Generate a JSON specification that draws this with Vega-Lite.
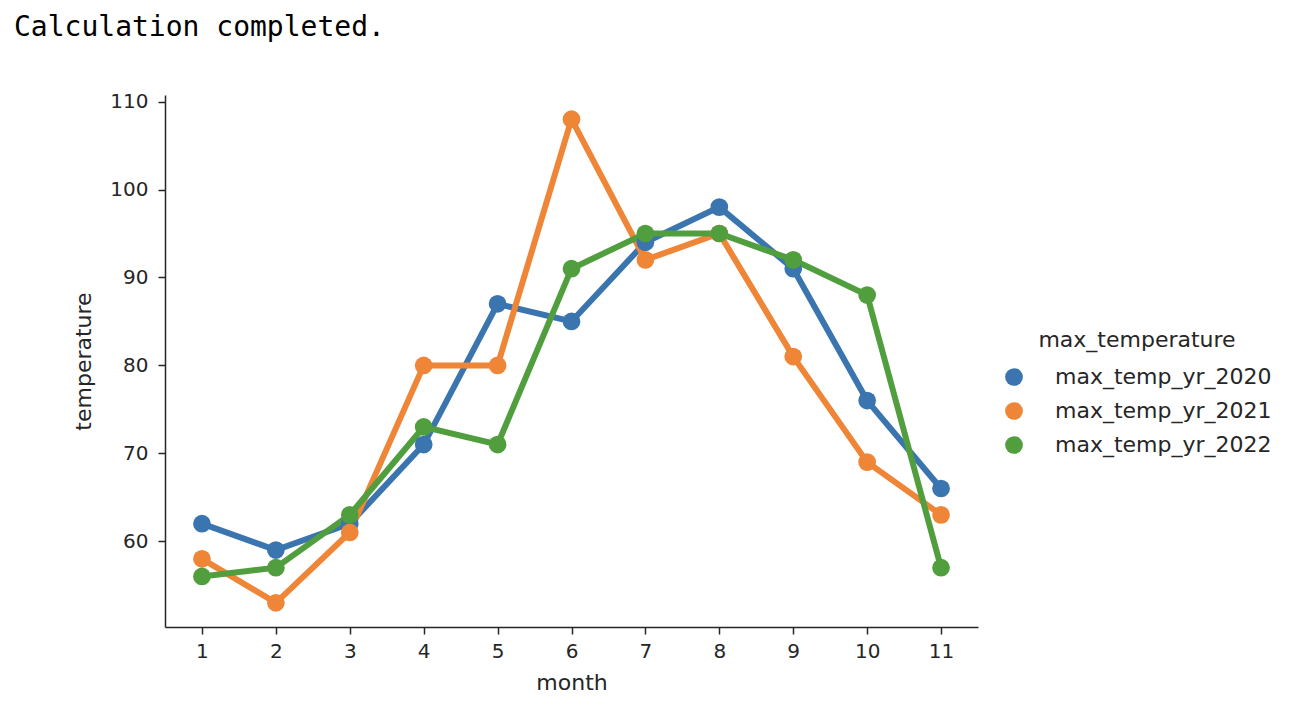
{
  "$schema": "https://vega.github.io/schema/vega-lite/v6.json",
  "width": 813,
  "height": 532,
  "autosize": "none",
  "padding": {"left": 165, "top": 95, "right": 324, "bottom": 81},
  "background": "white",
  "title": {
    "text": "Calculation completed.",
    "anchor": "start",
    "frame": "group",
    "font": "DejaVu Sans Mono",
    "fontSize": 28,
    "fontWeight": "normal",
    "color": "#000000",
    "dx": -151,
    "offset": 50
  },
  "config": {
    "view": {"stroke": null},
    "font": "DejaVu Sans",
    "axis": {
      "grid": false,
      "domainColor": "#262626",
      "domainWidth": 1.5,
      "tickColor": "#262626",
      "tickWidth": 1.5,
      "tickSize": 7,
      "labelFont": "DejaVu Sans",
      "labelFontSize": 20,
      "labelColor": "#262626",
      "labelPadding": 10,
      "titleFont": "DejaVu Sans",
      "titleFontSize": 22,
      "titleFontWeight": "normal",
      "titleColor": "#262626"
    },
    "legend": {
      "titleFont": "DejaVu Sans",
      "titleFontSize": 22,
      "titleFontWeight": "normal",
      "titleColor": "#262626",
      "labelFont": "DejaVu Sans",
      "labelFontSize": 22,
      "labelColor": "#262626",
      "labelLimit": 500,
      "titleLimit": 500
    }
  },
  "data": {
    "values": [
      {"month": 1, "year": "max_temp_yr_2020", "temperature": 62},
      {"month": 2, "year": "max_temp_yr_2020", "temperature": 59},
      {"month": 3, "year": "max_temp_yr_2020", "temperature": 62},
      {"month": 4, "year": "max_temp_yr_2020", "temperature": 71},
      {"month": 5, "year": "max_temp_yr_2020", "temperature": 87},
      {"month": 6, "year": "max_temp_yr_2020", "temperature": 85},
      {"month": 7, "year": "max_temp_yr_2020", "temperature": 94},
      {"month": 8, "year": "max_temp_yr_2020", "temperature": 98},
      {"month": 9, "year": "max_temp_yr_2020", "temperature": 91},
      {"month": 10, "year": "max_temp_yr_2020", "temperature": 76},
      {"month": 11, "year": "max_temp_yr_2020", "temperature": 66},
      {"month": 1, "year": "max_temp_yr_2021", "temperature": 58},
      {"month": 2, "year": "max_temp_yr_2021", "temperature": 53},
      {"month": 3, "year": "max_temp_yr_2021", "temperature": 61},
      {"month": 4, "year": "max_temp_yr_2021", "temperature": 80},
      {"month": 5, "year": "max_temp_yr_2021", "temperature": 80},
      {"month": 6, "year": "max_temp_yr_2021", "temperature": 108},
      {"month": 7, "year": "max_temp_yr_2021", "temperature": 92},
      {"month": 8, "year": "max_temp_yr_2021", "temperature": 95},
      {"month": 9, "year": "max_temp_yr_2021", "temperature": 81},
      {"month": 10, "year": "max_temp_yr_2021", "temperature": 69},
      {"month": 11, "year": "max_temp_yr_2021", "temperature": 63},
      {"month": 1, "year": "max_temp_yr_2022", "temperature": 56},
      {"month": 2, "year": "max_temp_yr_2022", "temperature": 57},
      {"month": 3, "year": "max_temp_yr_2022", "temperature": 63},
      {"month": 4, "year": "max_temp_yr_2022", "temperature": 73},
      {"month": 5, "year": "max_temp_yr_2022", "temperature": 71},
      {"month": 6, "year": "max_temp_yr_2022", "temperature": 91},
      {"month": 7, "year": "max_temp_yr_2022", "temperature": 95},
      {"month": 8, "year": "max_temp_yr_2022", "temperature": 95},
      {"month": 9, "year": "max_temp_yr_2022", "temperature": 92},
      {"month": 10, "year": "max_temp_yr_2022", "temperature": 88},
      {"month": 11, "year": "max_temp_yr_2022", "temperature": 57}
    ]
  },
  "encoding": {
    "x": {
      "field": "month",
      "type": "quantitative",
      "scale": {"domain": [0.5, 11.5], "nice": false, "zero": false},
      "axis": {"values": [1, 2, 3, 4, 5, 6, 7, 8, 9, 10, 11], "labelAngle": 0, "title": "month", "titlePadding": 11, "labelPadding": 7}
    },
    "y": {
      "field": "temperature",
      "type": "quantitative",
      "scale": {"domain": [50.25, 110.75], "nice": false, "zero": false},
      "axis": {"values": [60, 70, 80, 90, 100, 110], "title": "temperature", "titlePadding": 14}
    }
  },
  "layer": [
    {
      "mark": {"type": "line", "strokeWidth": 6},
      "encoding": {
        "color": {"field": "year", "type": "nominal", "scale": {"range": ["#3a75af", "#ef8536", "#519e3e"]}}
      }
    },
    {
      "mark": {"type": "point", "filled": true, "size": 314, "opacity": 1},
      "encoding": {
        "color": {
          "field": "year",
          "type": "nominal",
          "scale": {"range": ["#3a75af", "#ef8536", "#519e3e"]},
          "legend": {
            "title": "max_temperature",
            "orient": "none",
            "legendX": 838,
            "legendY": 235,
            "padding": 0,
            "titleAnchor": "middle",
            "titlePadding": 14,
            "symbolType": "circle",
            "symbolSize": 314,
            "symbolStrokeWidth": 0,
            "symbolOpacity": 1,
            "labelOffset": 30,
            "rowPadding": 12
          }
        }
      }
    }
  ]
}
